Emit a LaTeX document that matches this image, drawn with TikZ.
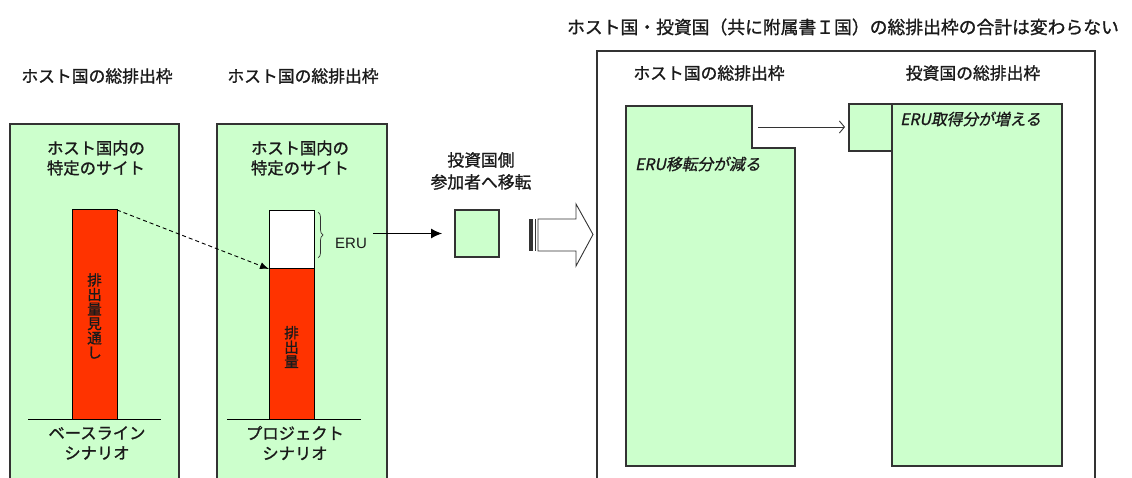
\documentclass[tikz,border=0pt]{standalone}
\usepackage{fontspec}
\setmainfont{Noto Sans CJK JP}[FakeBold=1.2]
\newfontfamily\jpit{Noto Sans CJK JP}[FakeSlant=0.2, FakeBold=1]
\newfontfamily\lat{Liberation Sans}
\usetikzlibrary{arrows.meta,decorations.pathreplacing}
\definecolor{lgreen}{HTML}{CCFFCC}
\definecolor{bred}{HTML}{FF3300}
\definecolor{edge}{HTML}{333333}
\definecolor{txt}{HTML}{1A1A1A}
\begin{document}
\begin{tikzpicture}[x=1pt,y=-1pt,
  every node/.style={text=txt},
  panel/.style={draw=edge, line width=1.2pt, fill=lgreen, anchor=north west, inner sep=0pt, outer sep=0pt},
  framebox/.style={draw=edge, line width=1.2pt, fill=white, anchor=north west, inner sep=0pt, outer sep=0pt},
  gbox/.style={draw=edge, line width=1.1pt, fill=lgreen, anchor=north west, inner sep=0pt, outer sep=0pt},
  redbar/.style={draw=black, line width=1pt, fill=bred, anchor=north west, inner sep=0pt, outer sep=0pt},
  whitebar/.style={draw=black, line width=1pt, fill=white, anchor=north west, inner sep=0pt, outer sep=0pt},
  lbl/.style={font=\fontsize{16.3}{20}\selectfont, align=center, inner sep=0pt},
  toplbl/.style={font=\fontsize{16.8}{20}\selectfont, inner sep=0pt},
  vlbl/.style={font=\fontsize{14.5}{14.5}\selectfont, align=center, inner sep=0pt},
  itlbl/.style={font=\jpit\fontsize{15.8}{18}\selectfont, anchor=west, inner sep=0pt},
  baseln/.style={draw=black, line width=1pt}
]
\useasboundingbox (0,0) rectangle (1132,478);
\clip (0,0) rectangle (1132,478);

% ---------- left: baseline scenario ----------
\node[toplbl] (t1) at (97,76) {ホスト国の総排出枠};
\node[panel, minimum width=169pt, minimum height=400pt] (p1) at (10,124) {};
\node[lbl] (p1t) at (96,158) {ホスト国内の\\特定のサイト};
\node[redbar, minimum width=45pt, minimum height=209pt] (bar1) at (72,210) {};
\node[vlbl] (bar1t) at (94.5,316) {排\\出\\量\\見\\通\\し};
\coordinate (b1l) at (28,419);
\coordinate (b1r) at (161,419);
\draw[baseln] (b1l) -- (b1r);
\node[lbl] (p1b) at (97,443) {ベースライン\\シナリオ};

% ---------- left: project scenario ----------
\node[toplbl] (t2) at (303,76) {ホスト国の総排出枠};
\node[panel, minimum width=170pt, minimum height=400pt] (p2) at (217,124) {};
\node[lbl] (p2t) at (300,158) {ホスト国内の\\特定のサイト};
\node[whitebar, minimum width=45pt, minimum height=58pt] (bar2w) at (269,211) {};
\node[redbar, minimum width=45pt, minimum height=150pt] (bar2) at (269,269) {};
\node[vlbl] (bar2t) at (291.5,347) {排\\出\\量};
\coordinate (b2l) at (227,419);
\coordinate (b2r) at (361,419);
\draw[baseln] (b2l) -- (b2r);
\node[lbl] (p2b) at (295,443) {プロジェクト\\シナリオ};

% dashed arrow
\draw[black, line width=0.9pt, dash pattern=on 4pt off 3pt, -{Latex[length=9pt,width=7pt]}]
  (bar1.north east) -- (bar2.north west);

% brace and ERU
\coordinate (brt) at (318,212);
\coordinate (brb) at (318,258);
\draw[edge, line width=0.7pt, decorate, decoration={brace, amplitude=5pt}] (brt) -- (brb);
\node[font=\lat\fontsize{15}{16}\selectfont, inner sep=0pt] (eru) at (351,243) {ERU};

% transfer to investor participant
\node[lbl, font=\fontsize{16.8}{22}\selectfont] (trans) at (481,171) {投資国側\\参加者へ移転};
\node[gbox, minimum width=44pt, minimum height=47pt] (sq) at (455,210) {};
\draw[black, line width=1pt, -{Latex[length=11pt,width=10pt]}, shorten <=6pt, shorten >=13pt]
  (eru.east |- sq.west) -- (sq.west);

% striped hollow arrow
\fill[edge] (529,219) rectangle (532.5,251);
\draw[edge, line width=1.1pt] (535.2,219) -- (535.2,251);
\draw[edge, line width=0.9pt, fill=white]
  (538,219) -- (576,219) -- (576,204) -- (593,234.5) -- (576,266) -- (576,251) -- (538,251) -- cycle;

% ---------- right frame ----------
\node[inner sep=0pt, font=\fontsize{17.8}{20}\selectfont] (title) at (843,27)
  {ホスト国・投資国（共に附属書Ｉ国）の総排出枠の合計は変わらない};
\node[framebox, minimum width=498pt, minimum height=450pt] (frame) at (597,51) {};
\node[toplbl] (t3) at (709,73) {ホスト国の総排出枠};
\node[toplbl] (t4) at (973,73) {投資国の総排出枠};

% host total cap (notched)
\coordinate (hnw) at (626,106);
\coordinate (hn1) at (752,106);
\coordinate (hn2) at (752,148);
\coordinate (hn3) at (795,148);
\coordinate (hse) at (795,466);
\coordinate (hsw) at (626,466);
\draw[edge, line width=1.1pt, fill=lgreen] (hnw) -- (hn1) -- (hn2) -- (hn3) -- (hse) -- (hsw) -- cycle;
\node[itlbl] (ht) at (635,164) {ERU移転分が減る};

% investor total cap
\node[gbox, minimum width=170pt, minimum height=362pt] (inv) at (892,104) {};
\node[gbox, minimum width=43pt, minimum height=47pt] (isq) at (849,104) {};
\node[itlbl] (it) at (900,119) {ERU取得分が増える};

\coordinate (hstart) at (752,127);
\draw[edge, line width=0.9pt, -{Straight Barb[length=5pt,width=12pt]}, shorten <=6pt, shorten >=4pt]
  (hstart) -- (hstart -| isq.west);
\end{tikzpicture}
\end{document}
